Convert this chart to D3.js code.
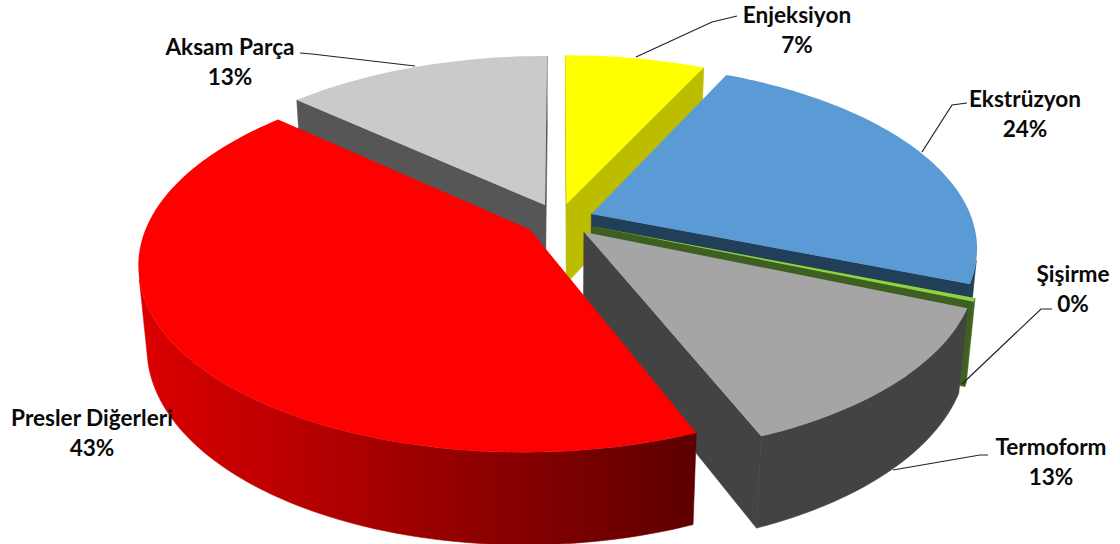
<!DOCTYPE html>
<html>
<head>
<meta charset="utf-8">
<script src="https://cdn.jsdelivr.net/npm/d3@7"></script>
<style>
html,body{margin:0;padding:0;background:#fff;}
svg{display:block;}
text{font-family:Lato,"Noto Sans",sans-serif;font-weight:700;font-size:22.6px;fill:#0a0a0a;text-anchor:middle;}
</style>
</head>
<body>
<svg id="chart" width="1120" height="544"></svg>
<script>
var categories = ["Enjeksiyon", "Ekstrüzyon", "Şişirme", "Termoform", "Presler Diğerleri", "Aksam Parça"];
var values = [7, 24, 0.3, 12.6, 42.8, 13.3];

var topColors = ["#ffff00", "#5b9bd5", "#8fd43c", "#a5a5a5", "#ff0000", "#cbc9cb"];
var wallColors = ["#bdbd00", "#223f5a", "#3e5f22", "#434343", "url(#redWall)", "#565656"];
//label centre, then leader line from the pie out to the label
var labelPos = [[797, 23], [1025, 107], [1073, 282], [1051, 455], [92, 426], [230, 55]];
var leaders = [
    [[636, 57], [712, 22], [737, 16]],
    [[922, 152], [952, 105], [967, 103]],
    [[962, 384], [1041, 309], [1052, 309]],
    [[893, 470], [980, 455], [988, 455]],
    null,
    [[415, 66], [312, 54], [300, 53]]
];

//camera: u to the right, v towards the viewer, z down the thickness
var cam = {x0: 559, y0: 220, A: 381, B: 180, H: 82, k: 0.175, m: 0.02};
var explode = 0.092;

function project(u, v, z){
    var w = 1 - cam.k*v + cam.m*z;
    return [cam.x0 + cam.A*u/w, cam.y0 + (cam.B*v + cam.H*z)/w];
}
function cross(a, b, c){
    return (b[0]-a[0])*(c[1]-b[1]) - (b[1]-a[1])*(c[0]-b[0]);
}

var svg = d3.select("#chart");
var line = d3.line();

var grad = svg.append("defs").append("linearGradient")
    .attr("id", "redWall")
    .attr("gradientUnits", "userSpaceOnUse")
    .attr("x1", 148).attr("x2", 692).attr("y1", 0).attr("y2", 0);
grad.append("stop").attr("offset", 0).attr("stop-color", "#da0000");
grad.append("stop").attr("offset", 1).attr("stop-color", "#5e0000");

var arcs = d3.pie().sort(null).value(function(d){return d;})(values);

//back slices first, the near ones paint over them
var order = [5, 0, 1, 2, 3, 4];

order.forEach(function(i){
    var a = arcs[i];
    var mid = (a.startAngle + a.endAngle)/2;
    var ou = explode*Math.sin(mid), ov = -explode*Math.cos(mid);
    var n = Math.max(2, Math.ceil((a.endAngle - a.startAngle)*40));
    var angles = d3.range(n+1).map(function(j){
        return a.startAngle + (a.endAngle - a.startAngle)*j/n;
    });
    function rim(t, z){return project(ou + Math.sin(t), ov - Math.cos(t), z);}
    var apexTop = project(ou, ov, 0), apexBot = project(ou, ov, 1);
    var g = svg.append("g").attr("class", "slice");

    //walls get a hairline in their own colour so no seam shows where they meet
    function wall(pts){
        g.append("path").attr("d", line(pts) + "Z")
            .attr("fill", wallColors[i])
            .attr("stroke", wallColors[i])
            .attr("stroke-width", 0.6);
    }

    //radial walls
    var s0 = rim(a.startAngle, 0), s1 = rim(a.startAngle, 1);
    if(cross(apexTop, s0, s1) < 0){
        wall([apexTop, s0, s1, apexBot]);
    }
    var e0 = rim(a.endAngle, 0), e1 = rim(a.endAngle, 1);
    if(cross(apexTop, e0, e1) > 0){
        wall([apexTop, e0, e1, apexBot]);
    }

    //outer wall, only the run of the rim that faces the camera
    var front = angles.filter(function(t, j){
        var prev = angles[Math.max(j-1, 0)], next = angles[Math.min(j+1, n)];
        return cross(rim(prev, 0), rim(next, 0), rim(next, 1)) < 0;
    });
    if(front.length > 1){
        wall(front.map(function(t){return rim(t, 0);})
            .concat(front.slice().reverse().map(function(t){return rim(t, 1);})));
    }

    //top face
    var topPts = [apexTop].concat(angles.map(function(t){return rim(t, 0);}));
    g.append("path").attr("d", line(topPts) + "Z").attr("fill", topColors[i]);
});

//leader lines
svg.append("g").selectAll("path")
    .data(leaders.filter(function(d){return d;}))
    .enter().append("path")
    .attr("d", line)
    .attr("fill", "none")
    .attr("stroke", "#222")
    .attr("stroke-width", 1.2);

//labels
var total = d3.sum(values);
var labels = svg.append("g").selectAll("text")
    .data(categories)
    .enter().append("text")
    .attr("x", function(d, i){return labelPos[i][0];})
    .attr("y", function(d, i){return labelPos[i][1];});
labels.append("tspan")
    .attr("x", function(d, i){return labelPos[i][0];})
    .text(function(d){return d;});
labels.append("tspan")
    .attr("x", function(d, i){return labelPos[i][0];})
    .attr("dy", 30)
    .text(function(d, i){return Math.round(values[i]/total*100) + "%";});
</script>
</body>
</html>
